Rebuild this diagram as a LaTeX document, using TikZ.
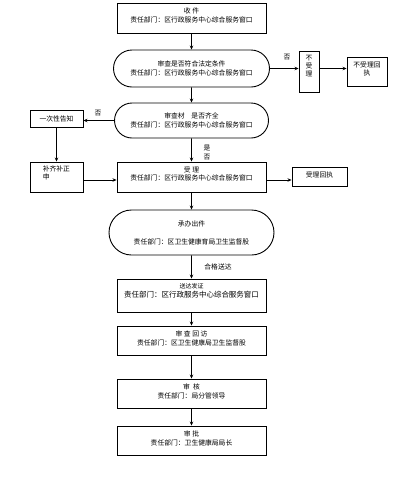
\documentclass[tikz,border=0pt]{standalone}
\usepackage{fontspec}
\setmainfont{Noto Sans CJK SC}
\usetikzlibrary{positioning,shapes.misc,arrows.meta}
\begin{document}
\begin{tikzpicture}[x=1pt,y=1pt,
	box/.style={draw,line width=.9pt,minimum width=149pt,minimum height=30pt,inner sep=0pt},
	pill/.style={draw,line width=.9pt,rounded rectangle,inner sep=0pt,align=center,font=\fontsize{6.8}{9}\selectfont},
	txt/.style={inner sep=0pt,align=center,font=\fontsize{6.8}{8.5}\selectfont},
	arr/.style={line width=.9pt,-{Stealth[length=4pt,width=3.5pt]}}]
	\useasboundingbox(0,0)rectangle(409,-480);
	% main column
	\node[box](shou)at(191.5,-18){};
	\node[txt,below=5.5pt of shou.north]{收\ 件\\责任部门：区行政服务中心综合服务窗口};
	\node[pill,minimum width=156pt,minimum height=37pt](fd)at(191.5,-68.5){审查是否符合法定条件\\责任部门：区行政服务中心综合服务窗口};
	\node[pill,minimum width=154pt,minimum height=35pt](cl)at(191.5,-120.5){审查材\quad 是否齐全\\责任部门：区行政服务中心综合服务窗口};
	\node[box](sl)at(191.5,-177){};
	\node[txt,below=5pt of sl.north]{受\ 理\\责任部门：区行政服务中心综合服务窗口};
	\node[pill,minimum width=165pt,minimum height=45pt,font=\fontsize{6.8}{18}\selectfont](cb)at(191.5,-232.5){承办出件\\责任部门：区卫生健康育局卫生监督股};
	\node[box,minimum height=33pt](sd)at(191.5,-295.5){};
	\node[txt,below=4.5pt of sd.north,font=\fontsize{6}{9}\selectfont]{送达发证\\\fontsize{7.5}{9}\selectfont 责任部门：区行政服务中心综合服务窗口};
	\node[box,minimum height=29pt](hf)at(191.5,-340.5){};
	\node[txt,below=5pt of hf.north]{审\ 查\ 回\ 访\\责任部门：区卫生健康局卫生监督股};
	\node[box,minimum height=29pt](sh)at(191.5,-393.5){};
	\node[txt,below=5pt of sh.north]{审\ \ 核\\责任部门：局分管领导};
	\node[box,minimum height=29pt](sp)at(191.5,-440.5){};
	\node[txt,below=5pt of sp.north]{审\ 批\\责任部门：卫生健康局局长};
	% side boxes
	\node[box,minimum width=20pt,minimum height=41pt](bsl)at(309,-71.5){};
	\node[txt,below=4.5pt of bsl.north,font=\fontsize{6.8}{8}\selectfont]{不\\受\\理};
	\node[box,minimum width=40pt,minimum height=29pt](bhz)at(367,-71.5){};
	\node[txt,below=5.5pt of bhz.north,font=\fontsize{6.8}{8}\selectfont]{不受理回\\执};
	\node[box,minimum width=53pt,minimum height=17pt,txt](gz)at(56.5,-118.5){一次性告知};
	\node[box,minimum width=53pt](bq)at(56.5,-177){};
	\node[txt,align=left,anchor=north west,font=\fontsize{6.8}{8}\selectfont]at([xshift=13pt,yshift=-4.5pt]bq.north west){补齐补正\\申};
	\node[box,minimum width=55pt,minimum height=19pt](shz)at(319.5,-176.5){};
	\node[txt,below=5.5pt of shz.north]{受理回执};
	% connectors
	\draw[arr](shou)--(fd);
	\draw[arr](fd)--(cl);
	\draw[arr](cl)--(sl);
	\draw[arr](sl)--(cb);
	\draw[arr](cb)--(sd);
	\draw[arr](sd)--(hf);
	\draw[arr](hf)--(sh);
	\draw[arr](sh)--(sp);
	\draw[arr](fd.east)--(fd.east-|bsl.west);
	\draw[arr](fd.east-|bsl.east)--(fd.east-|bhz.west);
	\draw[arr](cl.west)--(cl.west-|gz.east);
	\draw[arr](gz.south)--(bq.north);
	\draw[arr]([yshift=-3pt]bq.east)--([yshift=-3pt]sl.west);
	\draw[arr]([yshift=-3pt]sl.east)--([yshift=-3pt]sl.east-|shz.west);
	% labels
	\node[txt](n1)at(287,-57){否};
	\node[txt](n2)at(98,-113){否};
	\node[txt,font=\fontsize{6.8}{9}\selectfont](n3)at(207,-152.5){是\\否};
	\node[txt](hg)at(218,-267){合格送达};
\end{tikzpicture}
\end{document}
